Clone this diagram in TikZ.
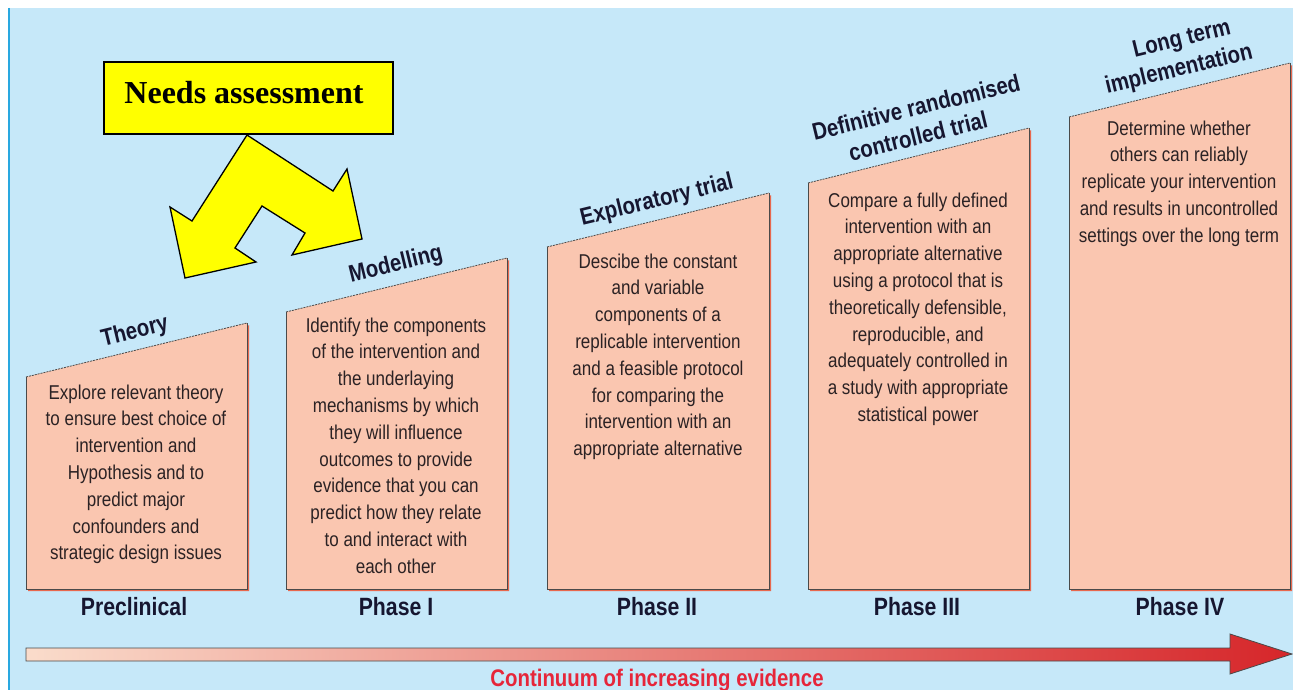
\documentclass[tikz,border=0pt]{standalone}
\usepackage{fontspec}
\newfontfamily\cond{Liberation Sans}[FakeStretch=0.85]
\newfontfamily\needsfont{Liberation Serif}
\definecolor{bgblue}{HTML}{C6E8F9}
\definecolor{edgeblue}{HTML}{29A8E0}
\definecolor{boxfill}{HTML}{FAC6B0}
\definecolor{boxshadow}{HTML}{E8684E}
\definecolor{boxline}{HTML}{4A4A4A}
\definecolor{bodycol}{HTML}{2B2224}
\definecolor{titlecol}{HTML}{161630}
\definecolor{contred}{HTML}{E6263A}
\definecolor{barlight}{HTML}{FADCCB}
\definecolor{barmid}{HTML}{EA9478}
\definecolor{barred}{HTML}{D6262A}
\definecolor{needsyellow}{HTML}{FFFF00}
\tikzset{
  bodytext/.style={font=\cond\fontsize{20}{26.8}\selectfont, align=center, text=bodycol, inner sep=0pt, anchor=north},
  titletext/.style={font=\cond\bfseries\fontsize{24}{28}\selectfont, align=center, text=titlecol, inner sep=0pt, rotate=13.7},
  phaselabel/.style={font=\cond\bfseries\fontsize{25}{28}\selectfont, text=titlecol, inner sep=0pt},
}
\begin{document}
\begin{tikzpicture}[x=1pt,y=-1pt]
\path[use as bounding box] (0,0) rectangle (1293,690);
\fill[white] (0,0) rectangle (1293,690);
\fill[bgblue] (8,8) rectangle (1293,690);
\draw[edgeblue, line width=1.6pt] (8.8,8) -- (8.8,690);
% phase boxes
\foreach \xa/\ya/\xb/\yb in {26/377/247/323, 286/312/507/258, 547/247/769/193, 808/183/1029/128, 1069/117/1290/63}{
  \fill[boxshadow, shift={(2.2,2.2)}] (\xa,589) -- (\xa,\ya) -- (\xb,\yb) -- (\xb,589) -- cycle;
  \fill[boxfill] (\xa,589) -- (\xa,\ya) -- (\xb,\yb) -- (\xb,589) -- cycle;
  \draw[boxline, line width=1pt] (\xb,\yb) -- (\xb,589) -- (\xa,589) -- (\xa,\ya);
  \draw[boxline, line width=0.8pt, dash pattern=on 2pt off 1pt] (\xa,\ya) -- (\xb,\yb);
}
% titles
\node[titletext] (t1) at (135,332) {Theory};
\node[titletext] (t2) at (396,265) {Modelling};
\node[titletext] (t3) at (657,201) {Exploratory trial};
\node[titletext] (t4a) at (916,107) {Definitive randomised};
\node[titletext] (t4b) at (918,136) {controlled trial};
\node[titletext] (t5a) at (1182,40) {Long term};
\node[titletext] (t5b) at (1179,70) {implementation};
% body texts
\node[bodytext] (b1) at (136,384.5) {Explore relevant theory\\to ensure best choice of\\intervention and\\Hypothesis and to\\predict major\\confounders and\\strategic design issues};
\node[bodytext] (b2) at (396,317.5) {Identify the components\\of the intervention and\\the underlaying\\mechanisms by which\\they will influence\\outcomes to provide\\evidence that you can\\predict how they relate\\to and interact with\\each other};
\node[bodytext] (b3) at (658,253.5) {Descibe the constant\\and variable\\components of a\\replicable intervention\\and a feasible protocol\\for comparing the\\intervention with an\\appropriate alternative};
\node[bodytext] (b4) at (918,192.5) {Compare a fully defined\\intervention with an\\appropriate alternative\\using a protocol that is\\theoretically defensible,\\reproducible, and\\adequately controlled in\\a study with appropriate\\statistical power};
\node[bodytext] (b5) at (1179,120.5) {Determine whether\\others can reliably\\replicate your intervention\\and results in uncontrolled\\settings over the long term};
% phase labels
\node[phaselabel] (p1) at (134,607) {Preclinical};
\node[phaselabel] (p2) at (396,607) {Phase I};
\node[phaselabel] (p3) at (657,607) {Phase II};
\node[phaselabel] (p4) at (917,607) {Phase III};
\node[phaselabel] (p5) at (1180,607) {Phase IV};
% evidence arrow
\shade[left color=barlight, middle color=barmid, right color=barred, draw=boxline, line width=0.8pt]
  (26,648) -- (1230,648) -- (1230,634) -- (1292,654) -- (1230,674) -- (1230,661) -- (26,661) -- cycle;
\node[font=\cond\bfseries\fontsize{24}{26}\selectfont, text=contred, anchor=base, inner sep=0pt] (cont) at (657,686) {Continuum of increasing evidence};
% needs assessment
\draw[black, line width=1.3pt, fill=needsyellow] (247,135) -- (333,191) -- (347,169) -- (362,239) -- (292,255) -- (305,233) -- (262,206) -- (235,248) -- (256,262) -- (185,278) -- (170,207) -- (192,221) -- cycle;
\draw[black, line width=1.3pt, fill=needsyellow] (104,62) rectangle (393,134);
\node[font=\needsfont\bfseries\fontsize{32}{34}\selectfont, inner sep=0pt] (needs) at (244,93) {Needs assessment};
\end{tikzpicture}
\end{document}
